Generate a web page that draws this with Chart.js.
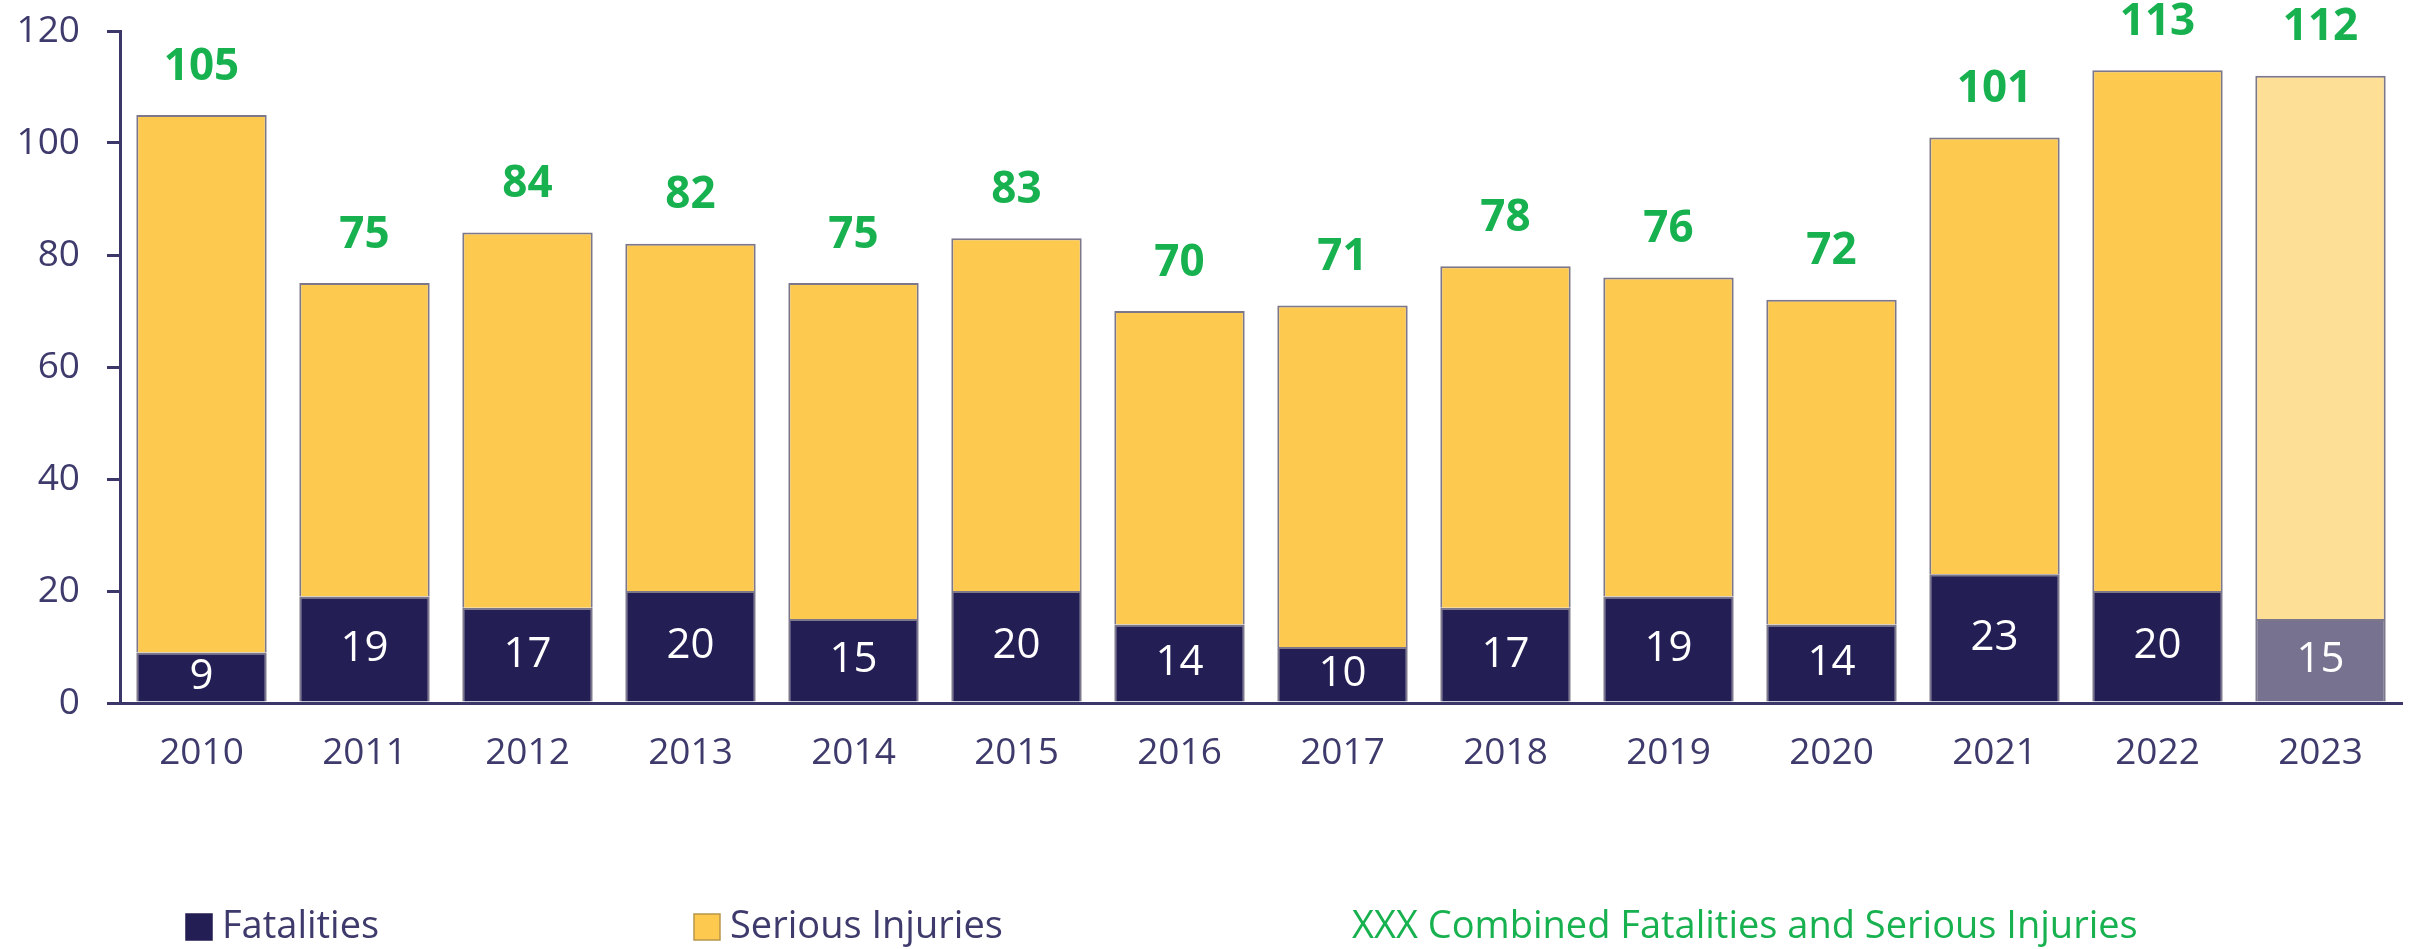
<!DOCTYPE html>
<html>
<head>
<meta charset="utf-8">
<script src="https://cdn.jsdelivr.net/npm/chart.js@4.4.1/dist/chart.umd.min.js"></script>
<style>
  html, body { margin: 0; padding: 0; background: #fff; }
  #wrap { width: 2412px; height: 949px; }
</style>
</head>
<body>
<div id="wrap"><canvas id="chart" width="2412" height="949"></canvas></div>
<script>
// values
const years = ["2010", "2011", "2012", "2013", "2014", "2015", "2016",
               "2017", "2018", "2019", "2020", "2021", "2022", "2023"];
const fatalities = [9, 19, 17, 20, 15, 20, 14, 10, 17, 19, 14, 23, 20, 15];
const combinedTotals = [105, 75, 84, 82, 75, 83, 70, 71, 78, 76, 72, 101, 113, 112];
const seriousInjuries = combinedTotals.map((t, i) => t - fatalities[i]);
const provisionalYear = "2023";

const NAVY = "#231e53";
const NAVY_LIGHT = "#76728f";
const YELLOW = "#fdc94f";
const YELLOW_LIGHT = "#fddf95";
const GREEN = "#17b14f";
const AXIS = "#3b3869";
const TEXT = "#3e3b6c";
const BAR_EDGE = "#7d778b";
const FONT = "'Open Sans', 'Noto Sans', sans-serif";

// data labels: white count inside fatalities segment, green total above the stack
const barLabels = {
  id: "barLabels",
  afterDatasetsDraw(chart) {
    const ctx = chart.ctx;
    const y = chart.scales.y;
    const fatalBars = chart.getDatasetMeta(0).data;
    ctx.save();
    ctx.textAlign = "center";
    ctx.textBaseline = "middle";
    fatalBars.forEach((bar, i) => {
      ctx.fillStyle = "#ffffff";
      ctx.font = "42px " + FONT;
      ctx.fillText(String(fatalities[i]), bar.x, (bar.y + bar.base) / 2);
      ctx.fillStyle = GREEN;
      ctx.font = "bold 44px " + FONT;
      ctx.fillText(String(combinedTotals[i]), bar.x, y.getPixelForValue(combinedTotals[i]) - 48);
    });
    ctx.restore();
  },
};

// legend laid out like the original (wide spacing, text-only third entry)
const legendEntries = [
  { text: "Fatalities", box: NAVY, color: TEXT, x: 186 },
  { text: "Serious Injuries", box: YELLOW, color: TEXT, x: 694 },
  { text: "XXX Combined Fatalities and Serious Injuries", box: null, color: GREEN, x: 1352 },
];

const customLegend = {
  id: "customLegend",
  afterDraw(chart) {
    const ctx = chart.ctx;
    const cy = 927;
    ctx.save();
    ctx.font = "38px " + FONT;
    ctx.textBaseline = "middle";
    ctx.textAlign = "left";
    legendEntries.forEach((e) => {
      let tx = e.x;
      if (e.box) {
        ctx.fillStyle = e.box;
        ctx.fillRect(e.x, cy - 13, 26, 26);
        ctx.strokeStyle = e.box === YELLOW ? "#b9954a" : NAVY;
        ctx.lineWidth = 1.5;
        ctx.strokeRect(e.x, cy - 13, 26, 26);
        tx = e.x + 36;
      }
      ctx.fillStyle = e.color;
      ctx.fillText(e.text, tx, cy);
    });
    ctx.restore();
  },
};

function draw() {
  const ctx = document.getElementById("chart").getContext("2d");
  new Chart(ctx, {
    type: "bar",
    data: {
      labels: years,
      datasets: [
        {
          label: "Fatalities",
          data: fatalities,
          backgroundColor: years.map((y) => (y === provisionalYear ? NAVY_LIGHT : NAVY)),
          borderColor: BAR_EDGE,
          borderWidth: 2,
          borderSkipped: "start",
        },
        {
          label: "Serious Injuries",
          data: seriousInjuries,
          backgroundColor: years.map((y) => (y === provisionalYear ? YELLOW_LIGHT : YELLOW)),
          borderColor: BAR_EDGE,
          borderWidth: 2,
          borderSkipped: "start",
        },
      ],
    },
    options: {
      responsive: false,
      animation: false,
      devicePixelRatio: 1,
      categoryPercentage: 1,
      barPercentage: 0.8,
      layout: { padding: { top: 31, right: 10, left: 0, bottom: 0 } },
      plugins: {
        legend: { display: false },
        tooltip: { enabled: false },
      },
      scales: {
        x: {
          stacked: true,
          grid: { display: false, drawTicks: false },
          border: { display: true, color: AXIS, width: 3 },
          ticks: { color: TEXT, font: { family: FONT, size: 37 }, padding: 28 },
          afterFit(scale) { scale.height = 246; },
        },
        y: {
          stacked: true,
          min: 0,
          max: 120,
          ticks: { stepSize: 20, color: TEXT, font: { family: FONT, size: 37 }, padding: 27 },
          grid: { drawOnChartArea: false, drawTicks: true, tickLength: 13, color: AXIS, lineWidth: 3 },
          border: { display: true, color: AXIS, width: 3 },
          afterFit(scale) {
            scale.width = 120;
            // keep the plot top at the 120 tick, as in the original
            scale.paddingTop = 0;
            scale.paddingBottom = 0;
          },
        },
      },
    },
    plugins: [barLabels, customLegend],
  });
}

Promise.all([
  document.fonts.load("36px 'Open Sans'"),
  document.fonts.load("bold 40px 'Open Sans'"),
]).then(draw, draw);
</script>
</body>
</html>
